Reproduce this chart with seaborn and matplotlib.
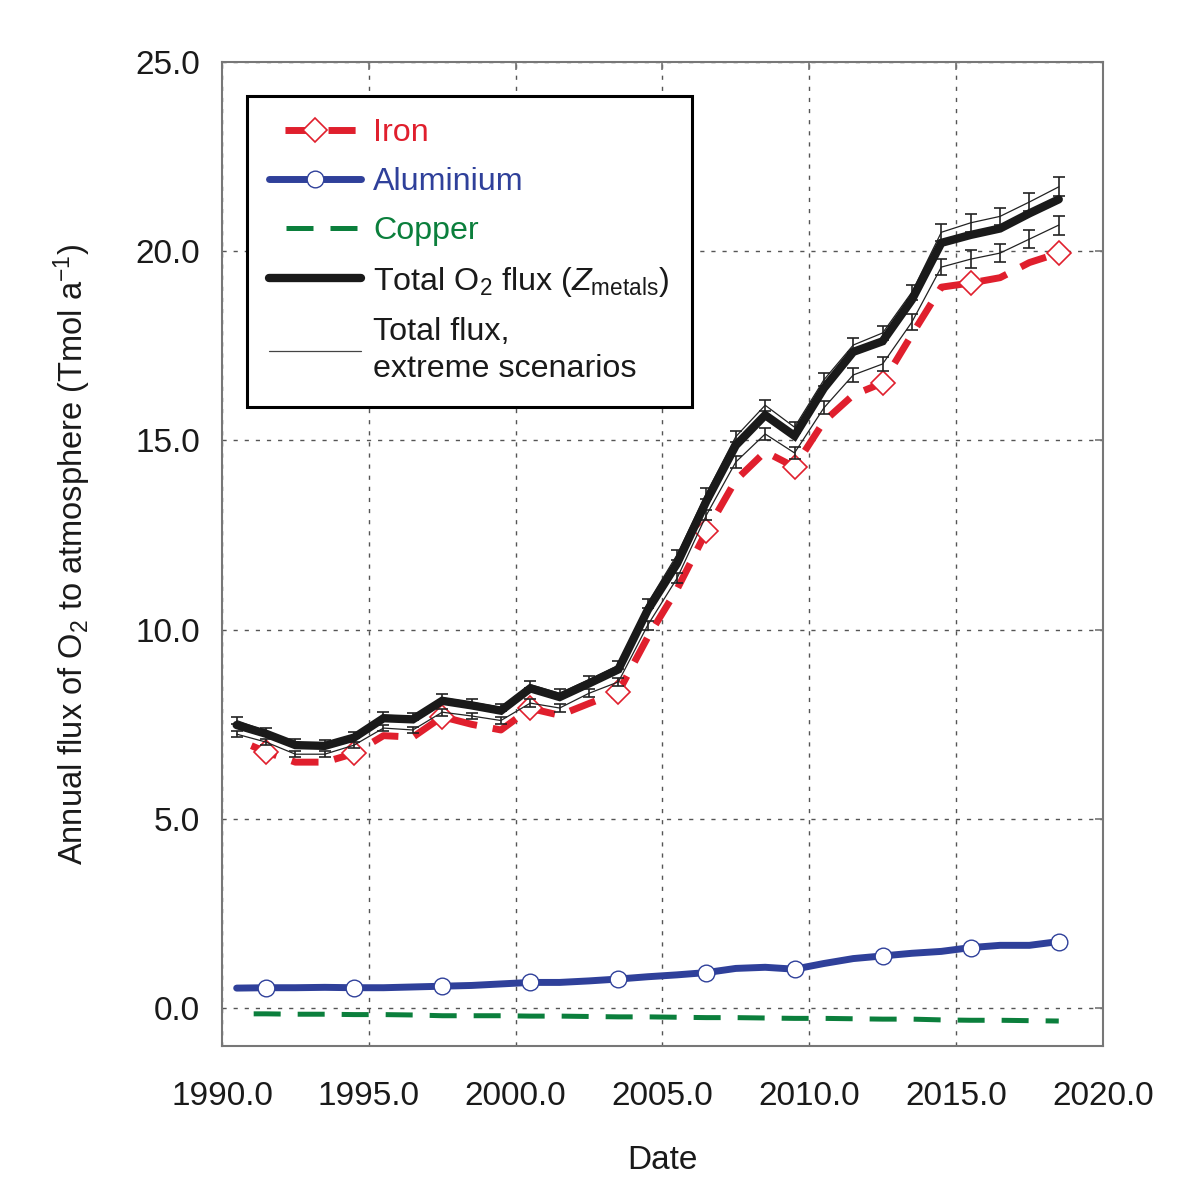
import numpy as np
import pandas as pd
import matplotlib
matplotlib.use("Agg")
import matplotlib.pyplot as plt
from matplotlib.lines import Line2D
import seaborn as sns

# Data (Tmol O2 per year)
years = [1990.5, 1991.5, 1992.5, 1993.5, 1994.5, 1995.5, 1996.5, 1997.5, 1998.5, 1999.5,
         2000.5, 2001.5, 2002.5, 2003.5, 2004.5, 2005.5, 2006.5, 2007.5, 2008.5, 2009.5,
         2010.5, 2011.5, 2012.5, 2013.5, 2014.5, 2015.5, 2016.5, 2017.5, 2018.5]

iron = [7.10, 6.77, 6.50, 6.50, 6.73, 7.20, 7.16, 7.70, 7.50, 7.35,
        7.92, 7.74, 8.05, 8.35, 9.80, 11.07, 12.60, 13.95, 14.70, 14.30,
        15.50, 16.20, 16.52, 17.80, 19.05, 19.16, 19.30, 19.70, 19.95]

aluminium = [0.53, 0.54, 0.54, 0.55, 0.54, 0.54, 0.56, 0.58, 0.60, 0.64,
             0.68, 0.68, 0.72, 0.77, 0.83, 0.88, 0.94, 1.05, 1.08, 1.03,
             1.18, 1.31, 1.38, 1.45, 1.50, 1.60, 1.66, 1.66, 1.76]

copper = [-0.15, -0.15, -0.16, -0.16, -0.17, -0.17, -0.18, -0.20, -0.20, -0.20,
          -0.21, -0.21, -0.22, -0.23, -0.23, -0.24, -0.25, -0.25, -0.26, -0.27,
          -0.27, -0.28, -0.29, -0.29, -0.31, -0.32, -0.32, -0.33, -0.34]

total = [7.48, 7.25, 6.95, 6.93, 7.15, 7.66, 7.63, 8.12, 8.00, 7.86,
         8.45, 8.22, 8.58, 8.95, 10.52, 11.75, 13.40, 14.87, 15.67, 15.12,
         16.38, 17.34, 17.62, 18.72, 20.22, 20.43, 20.60, 21.00, 21.37]

total_high = [7.60, 7.32, 7.02, 7.00, 7.22, 7.74, 7.71, 8.20, 8.08, 7.95,
              8.55, 8.32, 8.68, 9.06, 10.70, 11.98, 13.60, 15.10, 15.93, 15.35,
              16.60, 17.52, 17.84, 18.92, 20.50, 20.75, 20.92, 21.30, 21.70]

total_low = [7.24, 7.03, 6.71, 6.71, 6.95, 7.40, 7.35, 7.82, 7.72, 7.60,
             8.06, 7.93, 8.32, 8.62, 10.12, 11.36, 13.03, 14.43, 15.17, 14.67,
             15.86, 16.73, 17.02, 18.13, 19.58, 19.79, 19.95, 20.32, 20.69]

scenario_err = [0.08, 0.08, 0.08, 0.08, 0.08, 0.09, 0.09, 0.09, 0.09, 0.09,
                0.10, 0.10, 0.10, 0.10, 0.12, 0.13, 0.14, 0.15, 0.15, 0.15,
                0.17, 0.18, 0.18, 0.20, 0.22, 0.23, 0.23, 0.24, 0.25]

x_ticks = [1990, 1995, 2000, 2005, 2010, 2015, 2020]
y_ticks = [0, 5, 10, 15, 20, 25]

df = pd.DataFrame({"Date": years, "Iron": iron, "Aluminium": aluminium,
                   "Copper": copper, "Total": total,
                   "High": total_high, "Low": total_low})

RED = "#e01f2d"
BLUE = "#2f409a"
GREEN = "#0b7f3c"

sns.set_theme(style="white")
plt.rcParams["font.family"] = ["Liberation Sans", "DejaVu Sans"]
plt.rcParams["mathtext.fontset"] = "custom"
plt.rcParams["mathtext.rm"] = "Liberation Sans"
plt.rcParams["mathtext.it"] = "Liberation Sans:italic"
plt.rcParams["mathtext.bf"] = "Liberation Sans:bold"

fig = plt.figure(figsize=(12, 12.03), dpi=100)
ax = fig.add_axes([0.185, 0.1305, 0.734, 0.818])

iron_ls = (3.9, (3.9, 2.3))
copper_ls = (5.4, (5.4, 3.4))

# Iron
sns.lineplot(data=df, x="Date", y="Iron", ax=ax, color=RED, lw=5,
             linestyle=iron_ls, dash_capstyle="butt", marker="D", ms=12,
             mfc="white", mec=RED, mew=1.2, markevery=(1, 3), zorder=3)
# Aluminium
sns.lineplot(data=df, x="Date", y="Aluminium", ax=ax, color=BLUE, lw=5,
             marker="o", ms=12, mfc="white", mec=BLUE, mew=1.0,
             markevery=(1, 3), zorder=3)
# Copper
sns.lineplot(data=df, x="Date", y="Copper", ax=ax, color=GREEN, lw=3.6,
             linestyle=copper_ls, dash_capstyle="butt", zorder=3)

# Extreme scenarios with error bars
for col in ["High", "Low"]:
    sns.lineplot(data=df, x="Date", y=col, ax=ax, color="#222222", lw=0.9, zorder=4)
    ax.errorbar(df["Date"], df[col], yerr=scenario_err, fmt="none",
                ecolor="#222222", elinewidth=1.2, capsize=4.5, capthick=1.2, zorder=4)

# Total flux
sns.lineplot(data=df, x="Date", y="Total", ax=ax, color="#1a1a1a", lw=6,
             solid_joinstyle="miter", zorder=5)

ax.set_xlim(1990, 2020)
ax.set_ylim(-1, 25)
ax.set_xticks(x_ticks)
ax.set_yticks(y_ticks)
ax.set_xticklabels([f"{t:.1f}" for t in x_ticks])
ax.set_yticklabels([f"{t:.1f}" for t in y_ticks])
ax.tick_params(axis="both", direction="in", length=6, width=1.2, color="#777777",
               labelsize=24, top=True, right=True, labelcolor="#1a1a1a")
ax.tick_params(axis="y", pad=16)
ax.tick_params(axis="x", pad=25)
ax.grid(True, color="#555555", lw=1.0, linestyle=(0, (3, 5)))
for s in ax.spines.values():
    s.set_color("#777777")
    s.set_linewidth(1.5)

ax.set_xlabel("Date", fontsize=24, labelpad=24, color="#1a1a1a")
ax.set_ylabel("Annual flux of O$_2$ to atmosphere (Tmol a$^{-1}$)", fontsize=23.5,
              labelpad=30, color="#1a1a1a")

handles = [
    Line2D([], [], color=RED, lw=5, linestyle=iron_ls, dash_capstyle="butt",
           marker="D", ms=12, mfc="white", mec=RED, mew=1.2),
    Line2D([], [], color=BLUE, lw=5, marker="o", ms=12, mfc="white", mec=BLUE, mew=1.0),
    Line2D([], [], color=GREEN, lw=3.6, linestyle=copper_ls, dash_capstyle="butt"),
    Line2D([], [], color="#1a1a1a", lw=6),
    Line2D([], [], color="#444444", lw=0.9),
]
labels = ["Iron", "Aluminium", "Copper",
          r"Total O$_2$ flux ($\mathit{Z}_{\mathrm{metals}}$)",
          "Total flux,\nextreme scenarios"]
leg = ax.legend(handles, labels, loc="upper left", bbox_to_anchor=(0.028, 0.9655),
                borderaxespad=0, fontsize=23.2, frameon=True, fancybox=False,
                edgecolor="black", framealpha=1, handlelength=2.85,
                handletextpad=0.38, labelspacing=0.58, borderpad=0.7, numpoints=1)
leg.get_frame().set_linewidth(2.2)
for txt, c in zip(leg.get_texts(), [RED, BLUE, GREEN, "#1a1a1a", "#1a1a1a"]):
    txt.set_color(c)
leg.get_texts()[-1].set_linespacing(1.3)

fig.savefig("out.png", dpi=100)
